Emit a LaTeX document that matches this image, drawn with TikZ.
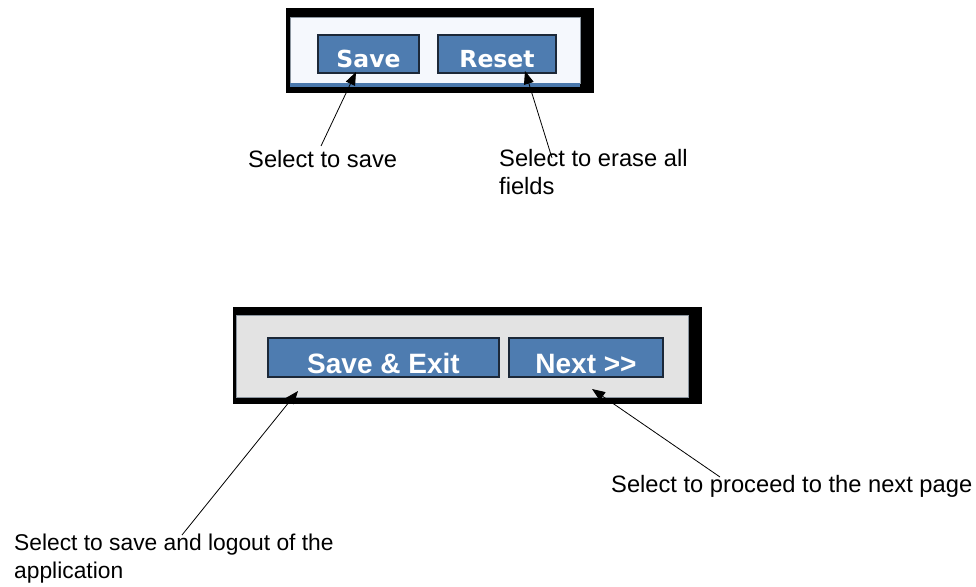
\documentclass[tikz,border=0pt]{standalone}
\usepackage{fontspec}
\setmainfont{Liberation Sans}
\newfontfamily\widebold{DejaVu Sans Bold}
\newfontfamily\narrowbold{Liberation Sans Bold}
\usetikzlibrary{arrows.meta}

\definecolor{btnblue}{RGB}{78,124,176}
\definecolor{btnedge}{RGB}{28,40,56}
\definecolor{panelA}{RGB}{245,248,253}
\definecolor{panelB}{RGB}{227,227,227}
\definecolor{stripblue}{RGB}{74,120,172}
\definecolor{paneledge}{RGB}{140,150,160}

\tikzset{
  btn/.style={draw=btnedge, fill=btnblue, line width=1.6pt, inner sep=0pt,
              text=white, minimum height=38pt},
  topbtn/.style={btn, font=\widebold\fontsize{23.5}{24}\selectfont,
                 text height=26pt, text depth=0pt},
  botbtn/.style={btn, minimum height=39pt, font=\narrowbold\fontsize{28}{29}\selectfont,
                 text height=31pt, text depth=0pt},
  % base anchor of a two-line caption sits on its last line
  lbl/.style={inner sep=0pt, anchor=base west, align=left,
              font=\fontsize{23.7}{28}\selectfont},
  pointer/.style={draw=black, line width=0.8pt, -{Triangle[length=13pt,width=10pt]}}
}

\begin{document}
\begin{tikzpicture}[x=1pt,y=-1pt]
\useasboundingbox (0,0) rectangle (976,586);

% upper toolbar panel
\fill[black] (286,8) rectangle (594,93);
\fill[panelA, draw=paneledge, line width=0.6pt] (290,17) rectangle (580,83);
\fill[stripblue] (290,83) rectangle (580,87);
\node[topbtn, minimum width=101pt] (save) at (368.5,54) {Save};
\node[topbtn, minimum width=118pt] (reset) at (497,54) {Reset};

% lower toolbar panel
\fill[black] (233,307) rectangle (702,404);
\fill[panelB, draw=paneledge, line width=0.6pt] (236,315) rectangle (688,397);
\node[botbtn, minimum width=231pt] (saveexit) at (383.5,357.5) {Save \& Exit};
\node[botbtn, minimum width=154pt] (next) at (586,357.5) {Next >>};

% captions
\node[lbl] (capSave) at (248,167) {Select to save};
\node[lbl] (capReset) at (499,194) {Select to erase all\\fields};
\node[lbl] (capNext) at (611,492) {Select to proceed to the next page};
\node[lbl, font=\fontsize{22.8}{28}\selectfont] (capExit) at (14,578)
  {Select to save and logout of the\\application};

% pointer ends
\coordinate (saveTip) at (356,72);
\coordinate (saveTail) at (321,146);
\coordinate (resetTip) at (525,71);
\coordinate (resetTail) at (552,158);
\coordinate (exitTip) at (298,391);
\coordinate (exitTail) at (182,535);
\coordinate (nextTip) at (592,389);
\coordinate (nextTail) at (720,477);

\draw[pointer] (saveTail) -- (saveTip);
\draw[pointer] (resetTail) -- (resetTip);
\draw[pointer] (exitTail) -- (exitTip);
\draw[pointer] (nextTail) -- (nextTip);
\end{tikzpicture}
\end{document}
